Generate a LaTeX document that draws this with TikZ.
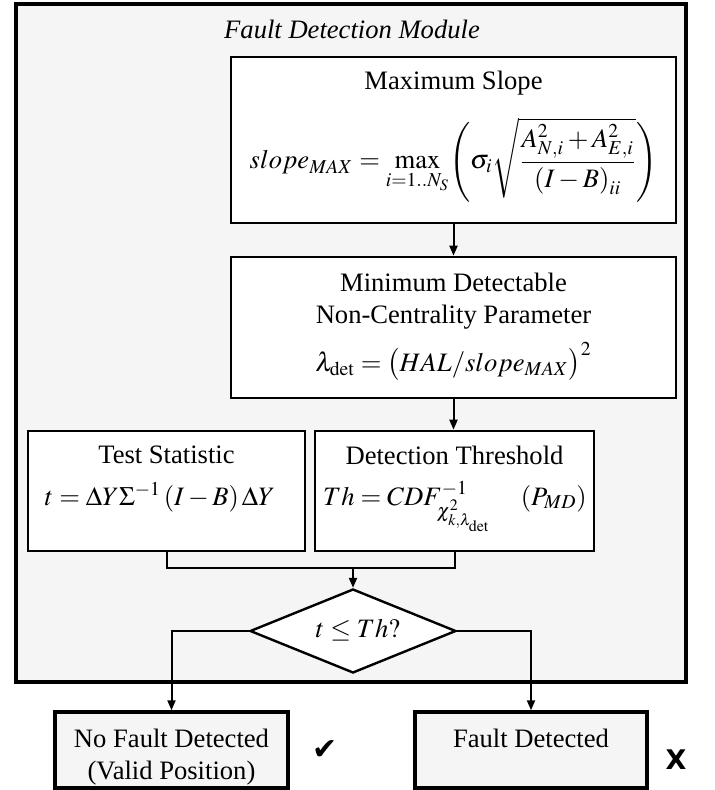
\documentclass[tikz,border=0pt]{standalone}
\usepackage{amsmath}
\usepackage{mathptmx}
\usepackage{fontspec}
\setmainfont{Liberation Serif}
\newfontfamily\symbfont{DejaVu Sans}
\usepackage{tikz}
\usetikzlibrary{shapes.geometric,arrows.meta}
\definecolor{panelgray}{RGB}{245,245,245}

\begin{document}
\begin{tikzpicture}[
    x=0.5pt, y=-0.5pt,
    box/.style={draw, fill=white, line width=1.3pt, inner sep=0pt},
    outbox/.style={draw, fill=panelgray, line width=1.7pt, inner sep=0pt},
    txt/.style={inner sep=0pt, anchor=base, font=\fontsize{13.3}{16}\selectfont},
    decide/.style={shape=diamond, draw, fill=white, line width=1.2pt, inner sep=0pt,
      minimum width=103pt, minimum height=42pt},
    arr/.style={-{Triangle[length=5pt,width=4pt]}, line width=1pt},
    link/.style={line width=1pt}
  ]
  \useasboundingbox (0,0) rectangle (715,790);

  % Module frame
  \draw[line width=2pt, fill=panelgray] (16,4) rectangle (686,682);
  \node[txt] (title) at (352,39) {\textit{Fault Detection Module}};

  % Boxes
  \node[box, minimum width=222.5pt, minimum height=83pt] (slope) at (453.5,140) {};
  \node[box, minimum width=222.5pt, minimum height=70.5pt] (ncp) at (453.5,327.5) {};
  \node[box, minimum width=138.5pt, minimum height=60pt] (test) at (166.5,491) {};
  \node[box, minimum width=139.5pt, minimum height=60pt] (thresh) at (454.5,491) {};
  \node[decide] (check) at (353,631) {};
  \node[outbox, minimum width=116.5pt, minimum height=38pt] (nofault) at (171.5,750) {};
  \node[outbox, minimum width=116pt, minimum height=38pt] (fault) at (531,750) {};

  % Texts
  \node[txt] (slopetitle) at (453.5,90) {Maximum Slope};
  \node[txt, anchor=center] (slopeeq) at (453.5,160)
    {$slope_{MAX} = \mathop{\max}\limits_{i=1..N_S}\Biggl(\sigma_i\sqrt{\dfrac{A_{N,i}^2 + A_{E,i}^2}{\left(I-B\right)_{ii}}}\Biggr)$};
  \node[txt] (ncptitle1) at (453.5,292) {Minimum Detectable};
  \node[txt] (ncptitle2) at (453.5,323) {Non-Centrality Parameter};
  \node[txt] (ncpeq) at (453.5,371) {$\lambda_{\mathrm{det}} = \bigl(HAL/slope_{MAX}\bigr)^2$};
  \node[txt] (testtitle) at (166.5,463) {Test Statistic};
  \node[txt] (testeq) at (160,505) {$t = \Delta Y\Sigma^{-1}\left(I-B\right)\Delta Y$};
  \node[txt] (threshtitle) at (454.5,464) {Detection Threshold};
  \node[txt] (thresheq) at (455,505) {$Th = CDF^{-1}_{\chi^2_{k,\lambda_{\mathrm{det}}}}\quad\left(P_{MD}\right)$};
  \node[txt] (checktxt) at (358,637) {$t \le Th?$};
  \node[txt] (nofault1) at (171.5,747) {No Fault Detected};
  \node[txt] (nofault2) at (171.5,779) {(Valid Position)};
  \node[txt] (fault1) at (531,747) {Fault Detected};
  \node[inner sep=0pt, font=\symbfont\fontsize{15}{18}\selectfont] (tick) at (325,750) {✔};
  \node[inner sep=0pt, font=\symbfont\bfseries\fontsize{13.5}{16}\selectfont] (cross) at (676,760) {X};

  % Connectors
  \draw[arr] (slope) -- (ncp);
  \draw[arr] (ncp.south) -- (ncp.south |- thresh.north);
  \coordinate (join) at (353,568);
  \draw[link] (test.south) |- (join) -| (thresh.south);
  \draw[arr] (join) -- (check.north);
  \draw[arr] (check.west) -| (nofault.north);
  \draw[arr] (check.east) -| (fault.north);
\end{tikzpicture}
\end{document}
